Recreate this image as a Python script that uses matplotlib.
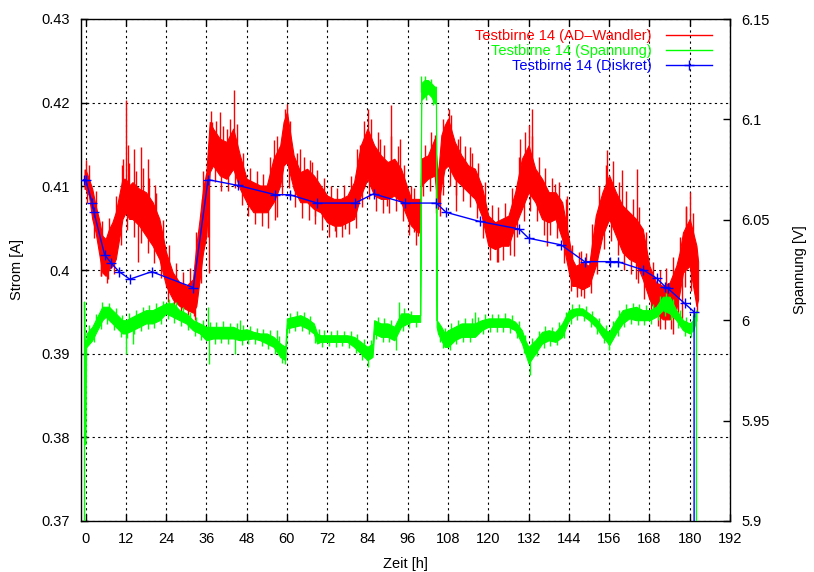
import matplotlib
matplotlib.use('Agg')
import matplotlib.pyplot as plt
from matplotlib.lines import Line2D
from matplotlib.ticker import FormatStrFormatter
import numpy as np

plt.rcParams['font.family'] = ['Liberation Sans', 'DejaVu Sans']

# Testbirne 14, AD-Wandler (Strom), Band aus Minimum/Maximum der Rauschspur
ad_t = [-0.3, 0, 1, 2, 3, 4, 5, 6, 7, 8, 9, 10, 11, 12, 13, 14, 16, 18, 20, 22,
        24, 26, 28, 30, 32, 33, 34, 35, 36, 37, 38, 40, 42, 44, 46, 48, 50, 52, 54, 56,
        58, 59, 60, 62, 64, 66, 68, 70, 72, 74, 76, 78, 80, 82, 84, 86, 88, 90, 92, 94,
        96, 97, 99, 99.8, 100, 102, 104, 105, 106, 107, 108, 110, 112, 114, 116, 118, 120, 122, 124, 126,
        128, 130, 132, 134, 136, 138, 140, 142, 144, 145, 146, 148, 150, 152, 154, 156, 158, 160, 162, 164,
        166, 168, 170, 172, 174, 176, 177, 178, 180, 181, 182, 182.5]
ad_lo = [0.4097, 0.4097, 0.4089, 0.4061, 0.4045, 0.4021, 0.3997, 0.3993, 0.4001, 0.4005, 0.4013, 0.4037, 0.4061, 0.4069, 0.4061, 0.4061, 0.4053, 0.4041, 0.4029, 0.4013,
         0.3981, 0.3965, 0.3957, 0.3953, 0.3949, 0.3957, 0.3989, 0.4021, 0.4041, 0.4117, 0.4125, 0.4113, 0.4109, 0.4121, 0.4097, 0.4081, 0.4069, 0.4069, 0.4069, 0.4081,
         0.4101, 0.4125, 0.4129, 0.4097, 0.4081, 0.4081, 0.4073, 0.4069, 0.4057, 0.4053, 0.4053, 0.4057, 0.4061, 0.4089, 0.4109, 0.4089, 0.4085, 0.4085, 0.4089, 0.4081,
         0.4061, 0.4053, 0.4045, 0.4045, 0.4101, 0.4109, 0.4113, 0.4073, 0.4101, 0.4121, 0.4125, 0.4109, 0.4101, 0.4093, 0.4085, 0.4065, 0.4029, 0.4025, 0.4029, 0.4029,
         0.4053, 0.4073, 0.4093, 0.4081, 0.4061, 0.4057, 0.4061, 0.4037, 0.3997, 0.3981, 0.3981, 0.3977, 0.3981, 0.4005, 0.4041, 0.4061, 0.4041, 0.4021, 0.4013, 0.4009,
         0.3989, 0.3965, 0.3949, 0.3941, 0.3941, 0.3953, 0.3973, 0.3997, 0.4005, 0.3981, 0.3957, 0.3965]
ad_hi = [0.4120, 0.4120, 0.4109, 0.4097, 0.4077, 0.4061, 0.4041, 0.4037, 0.4049, 0.4057, 0.4069, 0.4089, 0.4109, 0.4109, 0.4101, 0.4105, 0.4097, 0.4093, 0.4081, 0.4061,
         0.4021, 0.3997, 0.3985, 0.3981, 0.3989, 0.4029, 0.4061, 0.4097, 0.4117, 0.4177, 0.4169, 0.4157, 0.4153, 0.4169, 0.4137, 0.4109, 0.4105, 0.4101, 0.4101, 0.4133,
         0.4149, 0.4177, 0.4189, 0.4137, 0.4117, 0.4121, 0.4113, 0.4101, 0.4089, 0.4085, 0.4085, 0.4089, 0.4105, 0.4149, 0.4169, 0.4149, 0.4137, 0.4129, 0.4133, 0.4121,
         0.4097, 0.4085, 0.4085, 0.4085, 0.4133, 0.4137, 0.4157, 0.4113, 0.4161, 0.4173, 0.4181, 0.4153, 0.4137, 0.4125, 0.4121, 0.4101, 0.4065, 0.4057, 0.4061, 0.4065,
         0.4093, 0.4133, 0.4149, 0.4121, 0.4109, 0.4093, 0.4093, 0.4081, 0.4037, 0.4013, 0.4005, 0.4009, 0.4005, 0.4065, 0.4093, 0.4113, 0.4093, 0.4077, 0.4069, 0.4061,
         0.4049, 0.4005, 0.3985, 0.3981, 0.3985, 0.4005, 0.4021, 0.4045, 0.4061, 0.4045, 0.4029, 0.4010]
# grosse Ausreisser der Stromspur
ad_spike_t = [0.2, 4.7, 6.7, 9.2, 10.2, 11.2, 12.0, 12.8, 14.5, 15.7, 16.4, 18.7, 20.7, 22.2, 22.6, 32.2, 34.7, 36.7, 37.7, 40.2,
              42.2, 44.2, 49.2, 56.1, 57.0, 59.3, 60.1, 63.8, 67.6, 68.3, 74.3, 77.3, 81.8, 84.3, 87.8, 89.8, 91.0, 93.8, 97.8, 99.0,
              104.0, 105.5, 107.0, 108.3, 110.5, 111.0, 114.5, 123.0, 127.5, 129.5, 132.0, 132.9, 137.5, 140.0, 143.5, 146.5, 147.5, 147.7, 155.4, 159.7,
              164.0, 164.2, 171.2, 175.0, 177.7, 179.0, 180.2]
ad_spike_v = [0.4131, 0.3993, 0.3989, 0.4053, 0.4061, 0.4133, 0.4203, 0.4150, 0.4145, 0.4009, 0.4147, 0.4133, 0.4101, 0.4045, 0.4005, 0.3945, 0.4085, 0.3997, 0.4177, 0.4189,
              0.4169, 0.4215, 0.4073, 0.4155, 0.4063, 0.4169, 0.4198, 0.4145, 0.4129, 0.4065, 0.4047, 0.4049, 0.4149, 0.4193, 0.4157, 0.4077, 0.4197, 0.4157, 0.4045, 0.4041,
              0.4161, 0.4065, 0.4161, 0.4192, 0.4071, 0.4157, 0.4147, 0.4009, 0.4017, 0.4157, 0.4173, 0.4192, 0.4029, 0.4103, 0.4089, 0.3977, 0.4023, 0.3969, 0.4143, 0.4119,
              0.3989, 0.4121, 0.3929, 0.3923, 0.3941, 0.4077, 0.4093]
# kleinere Zacken ober- und unterhalb des Bandes
ad_up_t = [1, 3, 5, 7, 9, 11, 13, 15, 17, 19, 21, 23, 25, 27, 29, 31, 33, 35, 37.5, 39,
           41, 43, 45, 47, 49, 51, 53, 55, 57, 59.5, 61, 63, 65, 67, 69, 71, 73, 75, 77, 79,
           81, 83, 85, 87, 89, 91, 93, 95, 97, 98, 101, 103, 106.5, 109, 111.5, 113, 115, 117, 119, 121,
           123, 125, 127, 129, 131, 133, 135, 137, 139, 141, 143, 145, 147, 149, 151, 153, 155, 157, 159, 161,
           163, 165, 167, 169, 171, 173, 175, 177, 179, 181]
ad_up_v = [0.4125, 0.4095, 0.4058, 0.4062, 0.4088, 0.4125, 0.4128, 0.4118, 0.4122, 0.4110, 0.4092, 0.4060, 0.4030, 0.4008, 0.3998, 0.4002, 0.4045, 0.4118, 0.4190, 0.4178,
           0.4172, 0.4180, 0.4175, 0.4140, 0.4122, 0.4118, 0.4115, 0.4135, 0.4160, 0.4192, 0.4178, 0.4140, 0.4135, 0.4132, 0.4120, 0.4110, 0.4100, 0.4098, 0.4102, 0.4112,
           0.4145, 0.4178, 0.4180, 0.4165, 0.4150, 0.4160, 0.4148, 0.4125, 0.4100, 0.4098, 0.4150, 0.4165, 0.4180, 0.4185, 0.4160, 0.4148, 0.4140, 0.4128, 0.4105, 0.4078,
           0.4075, 0.4080, 0.4098, 0.4135, 0.4165, 0.4160, 0.4135, 0.4122, 0.4110, 0.4105, 0.4085, 0.4030, 0.4022, 0.4020, 0.4055, 0.4100, 0.4125, 0.4130, 0.4105, 0.4095,
           0.4085, 0.4075, 0.4045, 0.4010, 0.4000, 0.4002, 0.4015, 0.4040, 0.4075, 0.4068]
ad_dn_t = [0.5, 2.5, 4.5, 6.5, 8.5, 10.5, 12.5, 14.5, 16.5, 18.5, 20.5, 22.5, 24.5, 26.5, 28.5, 30.5, 32.5, 34.5, 36.5, 38.5,
           40.5, 42.5, 44.5, 46.5, 48.5, 50.5, 52.5, 54.5, 56.5, 58.5, 60.5, 62.5, 64.5, 66.5, 68.5, 70.5, 72.5, 74.5, 76.5, 78.5,
           80.5, 82.5, 84.5, 86.5, 88.5, 90.5, 92.5, 94.5, 96.5, 98.5, 100.5, 102.5, 104.5, 106.5, 108.5, 110.5, 112.5, 114.5, 116.5, 118.5,
           120.5, 122.5, 124.5, 126.5, 128.5, 130.5, 132.5, 134.5, 136.5, 138.5, 140.5, 142.5, 144.5, 146.5, 148.5, 150.5, 152.5, 154.5, 156.5, 158.5,
           160.5, 162.5, 164.5, 166.5, 168.5, 170.5, 172.5, 174.5, 176.5, 178.5, 180.5, 182.2]
ad_dn_v = [0.4080, 0.4038, 0.3993, 0.3985, 0.3995, 0.4030, 0.4048, 0.4040, 0.4032, 0.4020, 0.4008, 0.3990, 0.3962, 0.3950, 0.3945, 0.3942, 0.3940, 0.3985, 0.4040, 0.4105,
           0.4095, 0.4095, 0.4098, 0.4078, 0.4065, 0.4055, 0.4052, 0.4050, 0.4060, 0.4090, 0.4098, 0.4075, 0.4062, 0.4060, 0.4055, 0.4048, 0.4040, 0.4040, 0.4040, 0.4043,
           0.4050, 0.4075, 0.4085, 0.4070, 0.4068, 0.4068, 0.4070, 0.4058, 0.4042, 0.4030, 0.4088, 0.4095, 0.4068, 0.4090, 0.4100, 0.4090, 0.4082, 0.4075, 0.4062, 0.4038,
           0.4012, 0.4010, 0.4012, 0.4018, 0.4040, 0.4058, 0.4070, 0.4058, 0.4042, 0.4042, 0.4038, 0.4008, 0.3975, 0.3968, 0.3966, 0.3972, 0.3995, 0.4025, 0.4035, 0.4018,
           0.4000, 0.3995, 0.3985, 0.3965, 0.3945, 0.3933, 0.3930, 0.3930, 0.3945, 0.3980, 0.3975, 0.3950]

# Testbirne 14, Spannung (rechte Achse)
u_t = [0.3, 2, 3, 4, 5, 6, 7, 8, 9, 10,
       11, 12, 14, 16, 18, 20, 22, 24, 26, 28,
       30, 32, 34, 36, 38, 40, 42, 44, 46, 48,
       50, 52, 54, 56, 58, 59.5, 60, 62, 64, 66,
       68, 69, 70, 72, 74, 76, 78, 80, 82, 84,
       85.5, 86, 88, 90, 92, 94, 96, 97, 99, 99.7,
       100, 101, 102, 103, 104, 104.4, 104.6, 105, 106, 107,
       108, 110, 112, 114, 116, 118, 120, 122, 124, 126,
       128, 130, 131, 132, 134, 136, 138, 140, 142, 144,
       146, 148, 150, 152, 154, 155, 156, 158, 160, 162,
       164, 166, 168, 170, 172, 174, 176, 178, 180, 181, 182]
u_lo = [5.9867, 5.9900, 5.9934, 5.9967, 6.0000, 6.0017, 6.0000, 5.9984, 5.9967, 5.9950,
        5.9934, 5.9934, 5.9950, 5.9967, 5.9984, 5.9984, 6.0000, 6.0034, 6.0017, 6.0000,
        5.9984, 5.9950, 5.9934, 5.9900, 5.9909, 5.9909, 5.9909, 5.9909, 5.9900, 5.9905,
        5.9909, 5.9900, 5.9884, 5.9867, 5.9817, 5.9801, 5.9959, 5.9967, 5.9975, 5.9959,
        5.9934, 5.9884, 5.9892, 5.9892, 5.9892, 5.9892, 5.9892, 5.9867, 5.9834, 5.9801,
        5.9817, 5.9934, 5.9917, 5.9917, 5.9900, 5.9967, 5.9984, 5.9992, 5.9992, 5.9992,
        6.1097, 6.1113, 6.1130, 6.1113, 6.1080, 6.1080, 5.9967, 5.9934, 5.9900, 5.9867,
        5.9867, 5.9900, 5.9917, 5.9917, 5.9917, 5.9950, 5.9967, 5.9967, 5.9967, 5.9967,
        5.9950, 5.9884, 5.9834, 5.9784, 5.9834, 5.9884, 5.9900, 5.9892, 5.9917, 6.0000,
        6.0025, 6.0025, 6.0000, 5.9967, 5.9917, 5.9900, 5.9875, 5.9934, 5.9984, 6.0009,
        6.0000, 6.0000, 6.0000, 6.0017, 6.0050, 6.0034, 6.0000, 5.9950, 5.9934, 5.9950, 6.0000]
u_hi = [5.9934, 5.9967, 6.0000, 6.0034, 6.0067, 6.0067, 6.0067, 6.0050, 6.0034, 6.0017,
        6.0000, 6.0000, 6.0017, 6.0034, 6.0050, 6.0050, 6.0067, 6.0084, 6.0084, 6.0050,
        6.0034, 6.0000, 5.9984, 5.9967, 5.9967, 5.9967, 5.9967, 5.9967, 5.9950, 5.9955,
        5.9942, 5.9934, 5.9934, 5.9917, 5.9884, 5.9867, 6.0009, 6.0017, 6.0025, 6.0009,
        5.9984, 5.9934, 5.9925, 5.9925, 5.9925, 5.9925, 5.9925, 5.9917, 5.9892, 5.9867,
        5.9884, 6.0000, 5.9984, 5.9984, 5.9967, 6.0034, 6.0034, 6.0025, 6.0025, 6.0025,
        6.1180, 6.1196, 6.1196, 6.1180, 6.1163, 6.1163, 6.0000, 5.9992, 5.9967, 5.9934,
        5.9950, 5.9967, 5.9984, 5.9984, 5.9984, 6.0000, 6.0009, 6.0009, 6.0009, 6.0009,
        5.9992, 5.9950, 5.9900, 5.9867, 5.9900, 5.9942, 5.9950, 5.9942, 5.9984, 6.0050,
        6.0059, 6.0059, 6.0034, 6.0009, 5.9967, 5.9950, 5.9942, 6.0000, 6.0050, 6.0059,
        6.0067, 6.0050, 6.0050, 6.0067, 6.0117, 6.0117, 6.0050, 6.0000, 5.9984, 6.0000, 6.0050]
u_spike_t = [12.0, 14.0, 26.0, 36.5, 36.7, 44.5, 46.0, 57.0, 59.3, 84.2, 92.5, 93.3, 100.0, 116.0, 132.3, 156.0, 172.5]
u_spike_v = [5.9834, 5.9880, 6.0092, 6.0067, 5.9784, 5.9834, 6.0000, 5.9950, 5.9784, 5.9767, 5.9850, 6.0092, 6.1216, 6.0042, 5.9726, 5.9850, 6.0117]
u_up_t = [1, 3, 5, 7, 9, 11, 13, 15, 17, 19, 21, 23, 25, 27, 29, 31, 33, 35, 37, 39,
          41, 43, 45, 47, 49, 51, 53, 55, 57.5, 61, 63, 65, 67, 69.5, 71, 73, 75, 77, 79, 81,
          83, 85, 87, 89, 91, 95, 97, 101, 103, 107, 109, 111, 113, 115, 117, 119, 121, 123, 125, 127,
          129, 131, 133, 135, 137, 139, 141, 143, 145, 147, 149, 151, 153, 155, 157, 159, 161, 163, 165, 167,
          169, 171, 173, 175, 177, 179, 181]
u_up_v = [5.9975, 6.0030, 6.0090, 6.0088, 6.0060, 6.0025, 6.0035, 6.0050, 6.0068, 6.0075, 6.0085, 6.0098, 6.0105, 6.0090, 6.0065, 6.0040, 6.0018, 6.0000, 5.9992, 5.9990,
          5.9995, 5.9988, 5.9985, 5.9975, 5.9972, 5.9960, 5.9958, 5.9950, 5.9920, 6.0038, 6.0045, 6.0040, 6.0020, 5.9955, 5.9950, 5.9948, 5.9950, 5.9948, 5.9945, 5.9930,
          5.9905, 5.9900, 6.0015, 6.0010, 6.0000, 6.0060, 6.0045, 6.1215, 6.1200, 5.9960, 5.9985, 6.0000, 6.0010, 6.0010, 6.0018, 6.0030, 6.0032, 6.0030, 6.0035, 6.0025,
          5.9995, 5.9925, 5.9910, 5.9945, 5.9970, 5.9968, 5.9990, 6.0040, 6.0080, 6.0082, 6.0070, 6.0045, 6.0010, 5.9975, 5.9995, 6.0050, 6.0080, 6.0088, 6.0082, 6.0075,
          6.0082, 6.0120, 6.0135, 6.0105, 6.0050, 6.0018, 6.0025]
u_dn_t = [2.5, 4.5, 6.5, 8.5, 10.5, 12.5, 14.5, 16.5, 18.5, 20.5, 22.5, 24.5, 26.5, 28.5, 30.5, 32.5, 34.5, 38.5, 40.5, 42.5,
          46.5, 48.5, 50.5, 52.5, 54.5, 56.5, 58.5, 60.5, 62.5, 64.5, 66.5, 68.5, 70.5, 72.5, 74.5, 76.5, 78.5, 80.5, 82.5, 86.5,
          88.5, 90.5, 94.5, 96.5, 98.5, 101.5, 103.5, 105.5, 106.5, 108.5, 110.5, 112.5, 114.5, 118.5, 120.5, 122.5, 124.5, 126.5, 128.5, 130.5,
          134.5, 136.5, 138.5, 140.5, 142.5, 144.5, 146.5, 148.5, 150.5, 152.5, 154.5, 158.5, 160.5, 162.5, 164.5, 166.5, 168.5, 170.5, 172.5, 174.5,
          176.5, 178.5, 180.5]
u_dn_v = [5.9890, 5.9958, 5.9980, 5.9950, 5.9915, 5.9910, 5.9930, 5.9945, 5.9958, 5.9960, 5.9980, 6.0005, 5.9985, 5.9970, 5.9950, 5.9920, 5.9900, 5.9880, 5.9885, 5.9880,
          5.9875, 5.9880, 5.9880, 5.9870, 5.9855, 5.9830, 5.9788, 5.9935, 5.9945, 5.9948, 5.9930, 5.9885, 5.9868, 5.9870, 5.9868, 5.9870, 5.9862, 5.9835, 5.9800, 5.9905,
          5.9890, 5.9890, 5.9945, 5.9962, 5.9968, 6.1095, 6.1070, 5.9890, 5.9860, 5.9850, 5.9880, 5.9890, 5.9892, 5.9930, 5.9940, 5.9942, 5.9940, 5.9938, 5.9910, 5.9835,
          5.9820, 5.9862, 5.9872, 5.9875, 5.9910, 5.9980, 6.0000, 5.9995, 5.9965, 5.9930, 5.9885, 5.9920, 5.9965, 5.9980, 5.9975, 5.9975, 5.9980, 6.0000, 6.0020, 6.0000,
          5.9962, 5.9920, 5.9918]
# Anfang und Ende der Messung (Wert 0 ausserhalb des Bereichs)
u_start_t = [-0.3, -0.3, 0.1, 0.3]
u_start_v = [0.0, 6.009, 5.938, 5.990]
u_end_t = [182.0, 182.2]
u_end_v = [6.002, 0.0]

# Testbirne 14, diskrete Messwerte
disk_t = [-0.5, 0.0, 2.0, 2.5, 5.7, 7.7, 10.0, 13.2, 19.7, 32.1,
          36.5, 45.5, 56.5, 60.8, 69.0, 80.3, 85.8, 95.3, 104.5, 107.4,
          117.4, 129.2, 132.0, 141.7, 148.7, 156.2, 158.5, 166.2, 170.2, 172.7,
          173.5, 178.5, 181.3, 181.4]
disk_i = [0.4108, 0.4108, 0.4080, 0.4069, 0.4018, 0.4008, 0.3998, 0.3989, 0.3998, 0.3979,
          0.4108, 0.4101, 0.4090, 0.4090, 0.4080, 0.4080, 0.4091, 0.4080, 0.4080, 0.4069,
          0.4058, 0.4049, 0.4038, 0.4030, 0.4010, 0.4010, 0.4010, 0.4000, 0.3990, 0.3980,
          0.3978, 0.3960, 0.3950, 0.0]

RED, GREEN, BLUE = '#ff0000', '#00ff00', '#0000ff'
FS = 10.5


def noisy_band(axis, t, lo, hi, spikes, color):
    axis.fill_between(t, lo, hi, color=color, lw=0.8, zorder=2)
    mid = (np.array(lo) + np.array(hi)) / 2
    for st, sv in spikes:
        base = np.interp(st, t, mid)
        axis.vlines(st, base, sv, color=color, lw=1.0, zorder=2)


fig = plt.figure(figsize=(8.14, 5.72), dpi=100)
ax = fig.add_axes([80.5 / 814, 1 - 521 / 572, 649.5 / 814, 502 / 572])
ax2 = ax.twinx()
ax3 = ax.twinx()

noisy_band(ax, ad_t, ad_lo, ad_hi,
           [(ad_spike_t, ad_spike_v), (ad_up_t, ad_up_v), (ad_dn_t, ad_dn_v)], RED)

noisy_band(ax2, u_t, u_lo, u_hi,
           [(u_spike_t, u_spike_v), (u_up_t, u_up_v), (u_dn_t, u_dn_v)], GREEN)
ax2.plot(u_start_t, u_start_v, color=GREEN, lw=1.0)
ax2.plot(u_end_t, u_end_v, color=GREEN, lw=1.0)

ax3.plot(disk_t, disk_i, color=BLUE, lw=1.0, marker='+', ms=7, mew=1.0)

ax.set_xlim(-1.5, 192)
ax.set_ylim(0.37, 0.43)
ax3.set_ylim(0.37, 0.43)
ax2.set_ylim(5.9, 6.15)
ax.set_xticks(np.arange(0, 193, 12))
ax.set_yticks(np.arange(0.37, 0.4301, 0.01))
ax2.set_yticks(np.arange(5.9, 6.1501, 0.05))
ax.yaxis.set_major_formatter(FormatStrFormatter('%g'))
ax2.yaxis.set_major_formatter(FormatStrFormatter('%g'))
ax3.set_yticks([])
ax3.set_frame_on(False)
ax2.set_frame_on(False)

ax.tick_params(direction='in', length=5, width=1, top=True, right=False,
               labelsize=FS, pad=8)
ax2.tick_params(direction='in', length=5, width=1, labelsize=FS, pad=8)
ax.grid(True, color='black', linestyle=(0, (2, 3)), linewidth=0.8, zorder=1)
for s in ax.spines.values():
    s.set_linewidth(1.0)

ax.set_xlabel('Zeit [h]', fontsize=FS, labelpad=8)
ax.set_ylabel('Strom [A]', fontsize=FS, labelpad=12)
ax2.set_ylabel('Spannung [V]', fontsize=FS, labelpad=17)

handles = [Line2D([], [], color=RED, lw=1.0),
           Line2D([], [], color=GREEN, lw=1.0),
           Line2D([0, 1, 2], [0, 0, 0], color=BLUE, lw=1.0, marker='+', ms=7, mew=1.0, markevery=[1])]
labels = ['Testbirne 14 (AD\u2013Wandler)', 'Testbirne 14 (Spannung)', 'Testbirne 14 (Diskret)']
ax3.legend(handles, labels, loc='upper right', bbox_to_anchor=(0.981, 0.992),
           frameon=False, markerfirst=False, fontsize=FS, handlelength=3.15,
           handletextpad=0.96, labelspacing=0.07, borderaxespad=0.0,
           labelcolor='linecolor')

plt.savefig('out.png', dpi=100)
